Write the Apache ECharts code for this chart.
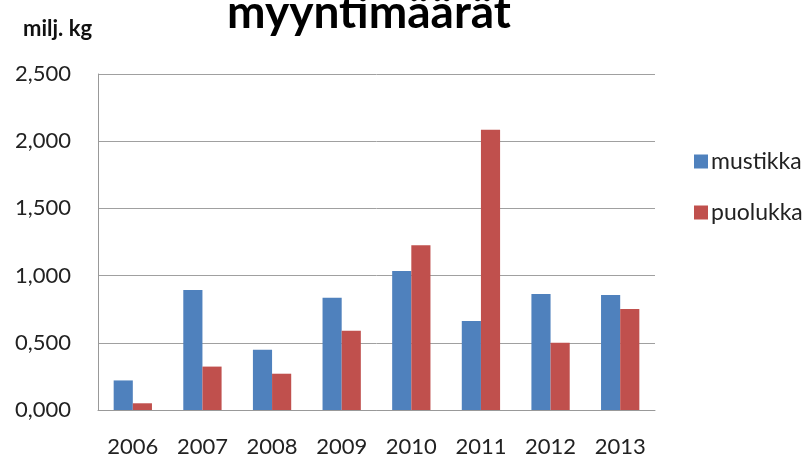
<!DOCTYPE html>
<html><head><meta charset="utf-8">
<script src="https://cdn.jsdelivr.net/npm/echarts@6/dist/echarts.min.js"></script>
<style>html,body{margin:0;padding:0;background:#fff}#c{width:811px;height:458px}</style>
</head><body><div id="c"></div>
<script>
const categories = ['2006','2007','2008','2009','2010','2011','2012','2013'];
const mustikka = [0.220, 0.892, 0.449, 0.836, 1.035, 0.663, 0.863, 0.855];
const puolukka = [0.050, 0.323, 0.270, 0.590, 1.225, 2.086, 0.500, 0.752];
const yTicks = [0, 0.5, 1, 1.5, 2, 2.5];
const font = 'Lato, "Open Sans", sans-serif';
const chart = echarts.init(document.getElementById('c'));
chart.setOption({
  animation: false,
  title: [{
    text: 'myyntimäärät', left: 364, top: -15, textAlign: 'center',
    textStyle: {fontFamily: font, fontWeight: 'bold', fontSize: 46, color: '#000'}
  },{
    text: 'milj. kg', left: 18, top: 13,
    textStyle: {fontFamily: font, fontWeight: 'bold', fontSize: 22, color: '#111'}
  }],
  legend: {
    orient: 'vertical', left: 689, top: 145, itemGap: 28,
    itemWidth: 14, itemHeight: 14, icon: 'rect',
    textStyle: {fontFamily: font, fontSize: 23, color: '#222', padding: [0,0,0,-2]},
    data: ['mustikka','puolukka']
  },
  grid: {left: 98, right: 156, top: 74, bottom: 45, containLabel: false},
  xAxis: {
    type: 'category', data: categories,
    axisLine: {lineStyle: {color: '#999', width: 1}},
    axisTick: {show: false},
    axisLabel: {fontFamily: font, fontSize: 22, color: '#222', margin: 26}
  },
  yAxis: {
    type: 'value', min: 0, max: yTicks[yTicks.length-1], interval: 0.5,
    axisLine: {show: true, lineStyle: {color: '#999'}},
    axisTick: {show: false},
    splitLine: {lineStyle: {color: '#a0a0a0', width: 1}},
    axisLabel: {fontFamily: font, fontSize: 22, color: '#222', margin: 27,
      formatter: v => v.toFixed(3).replace('.', ',')}
  },
  series: [
    {name: 'mustikka', type: 'bar', data: mustikka, itemStyle: {color: '#4F81BD'}, barGap: '0%', barCategoryGap: '45%'},
    {name: 'puolukka', type: 'bar', data: puolukka, itemStyle: {color: '#C0504D'}, barGap: '0%', barCategoryGap: '45%'}
  ]
});
</script></body></html>
